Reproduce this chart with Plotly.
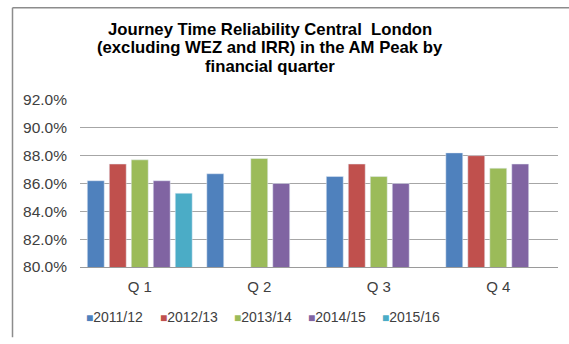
import plotly.graph_objects as go

quarters = ["Q 1", "Q 2", "Q 3", "Q 4"]
years = ["2011/12", "2012/13", "2013/14", "2014/15", "2015/16"]
v_2011 = [86.2, 86.7, 86.5, 88.2]
v_2012 = [87.4, None, 87.4, 88.0]
v_2013 = [87.7, 87.8, 86.5, 87.1]
v_2014 = [86.2, 86.0, 86.0, 87.4]
v_2015 = [85.3, None, None, None]
series = [v_2011, v_2012, v_2013, v_2014, v_2015]
colors = ["#4F81BD", "#C0504D", "#9BBB59", "#8064A2", "#4BACC6"]
title_lines = ["Journey Time Reliability Central  London",
               "(excluding WEZ and IRR) in the AM Peak by",
               "financial quarter"]
title_centres = [28, 46.5, 65.5]
y_ticks = [80, 82, 84, 86, 88, 90, 92]
y_tick_text = ["%.1f%%" % v for v in y_ticks]

FONT = "Liberation Sans, Arial, sans-serif"
W, H = 569, 344
L, R, T, B = 80, 11, 100, 73
pw, ph = W - L - R, H - T - B

def px_x(p):
    return (p - L) / pw

def px_y(p):
    return (H - B - p) / ph

fig = go.Figure()
for name, vals, col in zip(years, series, colors):
    fig.add_trace(go.Bar(x=quarters, y=vals, name=name, marker_color=col,
                         showlegend=False))
for name, col in zip(years, colors):
    label = "<span style='color:%s;font-size:12px'>■</span>%s" % (col, name)
    fig.add_trace(go.Scatter(x=[None], y=[None], mode="markers", name=label,
                             marker=dict(symbol="square", size=1,
                                         color="rgba(0,0,0,0)"),
                             showlegend=True))
# spacer entry so the last legend label is not clipped
fig.add_trace(go.Scatter(x=[None], y=[None], mode="markers", name=" ",
                         marker=dict(size=1, color="rgba(0,0,0,0)"),
                         showlegend=True, hoverinfo="skip"))

for line, yc in zip(title_lines, title_centres):
    fig.add_annotation(text="<b>%s</b>" % line, x=px_x(270), y=px_y(yc),
                       xref="paper", yref="paper", showarrow=False,
                       xanchor="center", yanchor="middle",
                       font=dict(family=FONT, size=16.7, color="#000000"))

# chart border (top and left, as in the reference crop)
fig.add_shape(type="line", xref="paper", yref="paper",
              x0=px_x(12.5), x1=px_x(569), y0=px_y(5.5), y1=px_y(5.5),
              line=dict(color="#8C8C8C", width=1.5))
fig.add_shape(type="line", xref="paper", yref="paper",
              x0=px_x(12.5), x1=px_x(12.5), y0=px_y(5.5), y1=px_y(343),
              line=dict(color="#8C8C8C", width=1.5))

fig.update_layout(
    width=W, height=H,
    margin=dict(l=L, r=R, t=T, b=B),
    paper_bgcolor="white", plot_bgcolor="white",
    barmode="group", bargap=0.08, bargroupgap=0.23,
    font=dict(family=FONT, size=13, color="#404040"),
    legend=dict(orientation="h", x=px_x(46), xanchor="left",
                y=px_y(322), yanchor="middle",
                font=dict(family=FONT, size=14, color="#404040"),
                itemwidth=30, entrywidth=29, bgcolor="rgba(0,0,0,0)"),
    xaxis=dict(showline=True, linecolor="#9A9A9A", linewidth=1,
               ticks="", showgrid=False, ticklabelstandoff=6,
               tickfont=dict(size=15, color="#404040")),
    yaxis=dict(range=[80, 92], tickvals=y_ticks, ticktext=y_tick_text,
               showgrid=True, gridcolor="#A6A6A6",
               gridwidth=1, zeroline=False, showline=False,
               ticklabelstandoff=12,
               tickfont=dict(size=15.5, color="#404040")),
)

fig.write_html("out.html")
